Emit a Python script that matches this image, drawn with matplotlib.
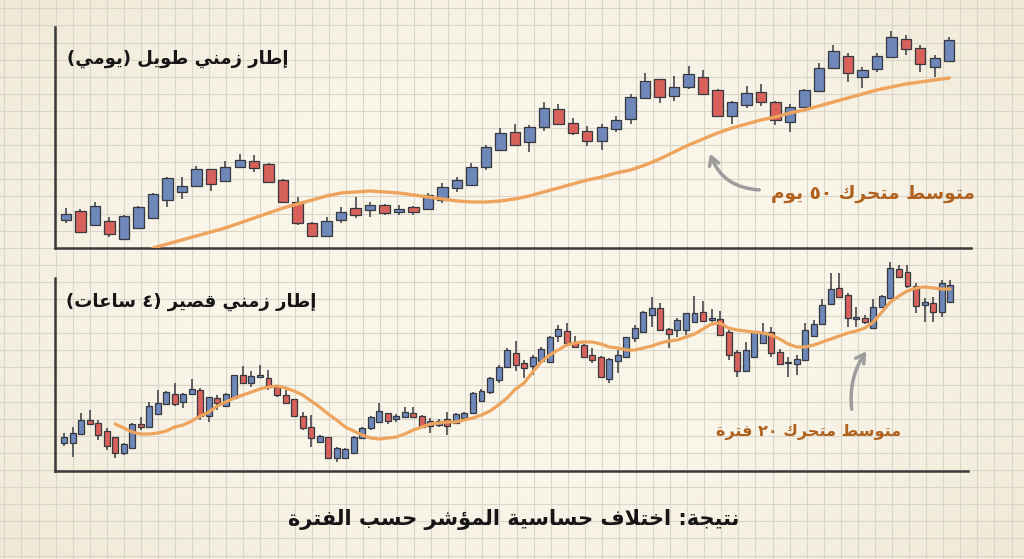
import re
import matplotlib
matplotlib.use('Agg')
import matplotlib.pyplot as plt
import numpy as np

# long time frame (daily) candles
d_open = [28, 37, 23, 27, 9, 20, 30, 48, 56, 62,
          79, 67, 81, 87, 84, 68, 46, 25, 12, 28,
          40, 38, 43, 36, 41, 39, 48, 60, 63, 81,
          98, 116, 106, 121, 139, 125, 117, 107, 119, 129,
          150, 169, 152, 161, 171, 158, 132, 143, 156, 146,
          126, 141, 157, 180, 192, 171, 179, 191, 209, 200,
          181, 187]
d_high = [40, 39, 46, 31, 33, 42, 55, 71, 71, 82,
          79, 87, 94, 93, 85, 69, 51, 26, 31, 41,
          51, 46, 44, 43, 42, 55, 65, 71, 85, 103,
          120, 124, 123, 146, 144, 130, 122, 124, 132, 154,
          175, 169, 172, 182, 178, 159, 147, 162, 164, 147,
          144, 159, 185, 203, 195, 181, 195, 217, 213, 203,
          193, 211]
d_low = [25, 16, 23, 11, 9, 20, 29, 41, 49, 62,
         57, 66, 80, 76, 65, 45, 23, 11, 12, 25,
         30, 31, 33, 33, 33, 39, 45, 56, 63, 78,
         98, 102, 96, 117, 124, 113, 102, 98, 116, 124,
         150, 145, 147, 159, 153, 132, 124, 140, 142, 123,
         116, 141, 157, 180, 166, 160, 176, 191, 193, 176,
         171, 187]
d_close = [34, 16, 42, 14, 32, 41, 54, 70, 62, 79,
           64, 81, 88, 80, 66, 46, 25, 12, 27, 36,
           33, 43, 35, 39, 36, 53, 61, 68, 81, 101,
           115, 103, 121, 140, 124, 115, 107, 121, 128, 151,
           167, 151, 161, 174, 154, 132, 146, 155, 146, 128,
           141, 158, 180, 197, 175, 178, 192, 211, 199, 184,
           190, 208]
d_ma50 = [None] * 6 + [0, 4, 8, 12, 16, 20, 25, 30, 35, 40,
                       44, 48, 52, 55, 56, 57, 56, 55, 53, 51,
                       49, 47, 46, 46, 47, 49, 52, 56, 60, 64,
                       68, 71, 75, 78, 83, 89, 96, 103, 109, 115,
                       120, 124, 128, 131, 135, 138, 142, 146, 150, 154,
                       158, 161, 164, 166, 168, 170]

# short time frame (4 hours) candles
h_open = [28, 28, 37, 51, 48, 40, 34, 18, 23, 47,
          44, 57, 67, 77, 69, 77, 81, 55, 73, 65,
          73, 96, 88, 94, 93, 84, 76, 72, 55, 44,
          29, 34, 13, 13, 18, 33, 43, 49, 58, 52,
          54, 58, 55, 45, 46, 52, 48, 53, 58, 70,
          79, 91, 104, 118, 108, 105, 110, 109, 135, 140,
          129, 126, 116, 114, 92, 110, 114, 133, 139, 156,
          163, 142, 141, 141, 149, 159, 151, 152, 139, 119,
          100, 114, 128, 139, 119, 108, 107, 111, 135, 147,
          167, 183, 176, 152, 153, 143, 164, 173, 202, 199,
          185, 166, 168, 159, 169]
h_high = [38, 44, 58, 61, 51, 43, 34, 28, 48, 54,
          69, 81, 80, 88, 78, 92, 83, 74, 76, 78,
          96, 105, 100, 106, 101, 86, 81, 72, 59, 56,
          36, 34, 24, 23, 35, 44, 55, 68, 58, 57,
          64, 64, 56, 53, 52, 59, 58, 59, 79, 82,
          94, 106, 123, 130, 111, 116, 124, 135, 146, 148,
          135, 127, 123, 115, 113, 121, 134, 146, 160, 174,
          168, 143, 153, 158, 175, 170, 162, 160, 141, 121,
          129, 139, 148, 144, 122, 114, 116, 148, 151, 172,
          198, 198, 178, 164, 156, 172, 176, 209, 206, 206,
          188, 173, 174, 191, 191]
h_low = [25, 14, 37, 46, 31, 21, 13, 16, 23, 41,
         44, 57, 66, 65, 63, 77, 51, 49, 61, 65,
         73, 88, 84, 94, 81, 74, 67, 54, 41, 24,
         28, 12, 9, 12, 18, 33, 41, 49, 47, 49,
         53, 53, 43, 38, 44, 36, 47, 52, 58, 69,
         77, 88, 104, 100, 93, 96, 108, 108, 129, 128,
         123, 113, 108, 93, 88, 98, 113, 129, 139, 144,
         141, 123, 134, 136, 149, 150, 149, 136, 111, 94,
         99, 114, 128, 114, 106, 94, 96, 111, 135, 147,
         166, 174, 144, 144, 147, 143, 163, 173, 193, 183,
         158, 149, 149, 154, 169]
h_close = [34, 38, 51, 47, 36, 25, 18, 27, 47, 44,
           65, 68, 79, 67, 77, 82, 55, 74, 68, 77,
           96, 88, 95, 96, 84, 76, 68, 55, 43, 33,
           35, 13, 23, 22, 34, 43, 54, 60, 50, 55,
           59, 54, 44, 50, 50, 45, 57, 58, 78, 80,
           93, 104, 121, 106, 103, 114, 122, 134, 142, 128,
           124, 114, 111, 94, 112, 116, 134, 143, 159, 163,
           141, 137, 151, 158, 158, 150, 153, 136, 116, 100,
           121, 139, 139, 118, 107, 109, 112, 141, 147, 166,
           182, 174, 153, 154, 149, 164, 175, 203, 194, 185,
           165, 169, 159, 188, 186]
h_ma20 = [None] * 6 + [47, 43, 39, 37, 37, 38, 40, 44, 46, 50,
                       55, 59, 65, 69, 73, 76, 79, 82, 84, 85,
                       83, 80, 76, 70, 64, 57, 51, 44, 40, 36,
                       33, 32, 33, 34, 37, 41, 44, 47, 48, 49,
                       49, 51, 53, 56, 60, 66, 73, 82, 88, 99,
                       109, 116, 121, 126, 128, 129, 129, 127, 124, 123,
                       121, 121, 123, 125, 128, 130, 131, 134, 137, 142,
                       147, 148, 143, 141, 140, 139, 138, 136, 132, 127,
                       124, 124, 126, 129, 132, 135, 138, 140, 143, 149,
                       159, 169, 175, 180, 183, 184, 183, 182, 182]

title_long = 'إطار زمني طويل (يومي)'
title_short = 'إطار زمني قصير (٤ ساعات)'
label_ma50 = 'متوسط متحرك ٥٠ يوم'
label_ma20 = 'متوسط متحرك ٢٠ فترة'
conclusion = 'نتيجة: اختلاف حساسية المؤشر حسب الفترة'

BG = '#f9f5e9'
GRID = '#d9d5c8'
BLUE = '#6f87b9'
RED = '#d8615b'
EDGE = '#363a40'
ORANGE = '#eea45c'
BROWN = '#b0611d'
ARROW = '#9c9c9c'

# arabic letters -> (isolated presentation form, number of forms)
AR = {'ء': (0xFE80, 1), 'آ': (0xFE81, 2), 'أ': (0xFE83, 2), 'ؤ': (0xFE85, 2),
      'إ': (0xFE87, 2), 'ئ': (0xFE89, 4), 'ا': (0xFE8D, 2), 'ب': (0xFE8F, 4),
      'ة': (0xFE93, 2), 'ت': (0xFE95, 4), 'ث': (0xFE99, 4), 'ج': (0xFE9D, 4),
      'ح': (0xFEA1, 4), 'خ': (0xFEA5, 4), 'د': (0xFEA9, 2), 'ذ': (0xFEAB, 2),
      'ر': (0xFEAD, 2), 'ز': (0xFEAF, 2), 'س': (0xFEB1, 4), 'ش': (0xFEB5, 4),
      'ص': (0xFEB9, 4), 'ض': (0xFEBD, 4), 'ط': (0xFEC1, 4), 'ظ': (0xFEC5, 4),
      'ع': (0xFEC9, 4), 'غ': (0xFECD, 4), 'ف': (0xFED1, 4), 'ق': (0xFED5, 4),
      'ك': (0xFED9, 4), 'ل': (0xFEDD, 4), 'م': (0xFEE1, 4), 'ن': (0xFEE5, 4),
      'ه': (0xFEE9, 4), 'و': (0xFEED, 2), 'ى': (0xFEEF, 2), 'ي': (0xFEF1, 4)}
LAM_ALEF = {'ا': 0xFEFB, 'آ': 0xFEF5, 'أ': 0xFEF7, 'إ': 0xFEF9}


def ar(text):
    # join letters into presentation forms, then put them in visual order
    chars = []
    i = 0
    while i < len(text):
        if text[i] == 'ل' and i + 1 < len(text) and text[i + 1] in LAM_ALEF:
            chars.append(('LA', text[i + 1]))
            i += 2
        else:
            chars.append((text[i], None))
            i += 1
    out = []
    for k, (c, extra) in enumerate(chars):
        prev = chars[k - 1][0] if k > 0 else None
        nxt = chars[k + 1][0] if k + 1 < len(chars) else None
        joins_prev = prev in AR and AR[prev][1] == 4
        if c == 'LA':
            out.append(chr(LAM_ALEF[extra] + (1 if joins_prev else 0)))
            continue
        if c not in AR:
            out.append(c)
            continue
        base, n = AR[c]
        joins_next = n == 4 and (nxt in AR or nxt == 'LA')
        if n == 1:
            form = 0
        elif joins_prev and joins_next:
            form = 3
        elif joins_prev:
            form = 1
        elif joins_next:
            form = 2
        else:
            form = 0
        out.append(chr(base + form))
    runs = re.findall(r'[0-9\u0660-\u0669]+|[^0-9\u0660-\u0669]', ''.join(out))
    mirror = {'(': ')', ')': '('}
    return ''.join(mirror.get(r, r) for r in reversed(runs))


def candles(ax, o, h, l, c, width):
    o, h, l, c = (np.array(v, dtype=float) for v in (o, h, l, c))
    x = np.arange(len(o))
    colors = np.where(c >= o, BLUE, RED)
    ax.vlines(x, l, h, color=EDGE, lw=1.1, zorder=2, clip_on=False)
    ax.bar(x, np.maximum(np.abs(c - o), 1.5), width, bottom=np.minimum(o, c),
           color=colors, edgecolor=EDGE, linewidth=0.9, zorder=3, clip_on=False)


def panel(ax, xlim, ylim):
    ax.set_xlim(*xlim)
    ax.set_ylim(*ylim)
    ax.patch.set_alpha(0)
    for s in ('top', 'right'):
        ax.spines[s].set_visible(False)
    for s in ('left', 'bottom'):
        ax.spines[s].set_color('#3a3a3a')
        ax.spines[s].set_linewidth(1.8)
    ax.set_xticks([])
    ax.set_yticks([])


if __name__ == '__main__':
    plt.rcParams['font.family'] = ['DejaVu Sans']
    fig = plt.figure(figsize=(10.24, 5.59), dpi=100, facecolor=BG)

    bg = fig.add_axes([0, 0, 1, 1], zorder=-1)
    bg.set_xlim(0, 1024)
    bg.set_ylim(559, 0)
    bg.axis('off')
    # paper vignette
    yy, xx = np.mgrid[0:559, 0:1024]
    r = np.sqrt(((xx - 512) / 600.0) ** 2 + ((yy - 280) / 380.0) ** 2)
    shade = np.zeros((559, 1024, 4))
    shade[..., :3] = np.array([224, 210, 180]) / 255.0
    shade[..., 3] = np.clip((r - 0.55) * 0.6, 0, 0.35)
    bg.imshow(shade, extent=(0, 1024, 559, 0), zorder=0, aspect='auto')
    for gx in np.arange(4.4, 1024, 17.07):
        bg.axvline(gx, color=GRID, lw=0.8, zorder=1)
    for gy in np.arange(8.3, 559, 17.1):
        bg.axhline(gy, color=GRID, lw=0.8, zorder=1)
    bg.set_xlim(0, 1024)
    bg.set_ylim(559, 0)

    ax1 = fig.add_axes([0.0537, 0.5564, 0.8945, 0.3953])
    panel(ax1, (-0.76, 62.5), (0, 221))
    candles(ax1, d_open, d_high, d_low, d_close, 0.72)
    ax1.plot(np.arange(len(d_ma50)), np.array(d_ma50, dtype=float),
             color=ORANGE, lw=2.4, zorder=4, solid_capstyle='round')

    ax2 = fig.add_axes([0.0537, 0.1574, 0.8916, 0.3453])
    panel(ax2, (-1.06, 106.1), (0, 193))
    candles(ax2, h_open, h_high, h_low, h_close, 0.7)
    ax2.plot(np.arange(len(h_ma20)), np.array(h_ma20, dtype=float),
             color=ORANGE, lw=2.3, zorder=4, solid_capstyle='round')

    top = fig.add_axes([0, 0, 1, 1], zorder=5)
    top.set_xlim(0, 1024)
    top.set_ylim(559, 0)
    top.axis('off')
    top.text(67, 59, ar(title_long), fontsize=13, fontweight='bold',
             color='#151515', ha='left', va='center')
    top.text(66, 302, ar(title_short), fontsize=13, fontweight='bold',
             color='#151515', ha='left', va='center')
    top.text(975, 194, ar(label_ma50), fontsize=13.3, fontweight='bold',
             color=BROWN, ha='right', va='center')
    top.text(901, 432, ar(label_ma20), fontsize=11.5, fontweight='bold',
             color=BROWN, ha='right', va='center')
    top.text(514, 519, ar(conclusion), fontsize=15, fontweight='bold',
             color='#151515', ha='center', va='center')

    top.annotate('', xy=(709, 151), xytext=(762, 190),
                 arrowprops=dict(arrowstyle='->,head_length=0.6,head_width=0.35',
                                 color=ARROW, lw=2.5,
                                 connectionstyle='arc3,rad=-0.35'))
    top.annotate('', xy=(868, 349), xytext=(852, 412),
                 arrowprops=dict(arrowstyle='->,head_length=0.6,head_width=0.35',
                                 color=ARROW, lw=2.5,
                                 connectionstyle='arc3,rad=-0.2'))

    fig.savefig('out.png', dpi=100, facecolor=BG)
